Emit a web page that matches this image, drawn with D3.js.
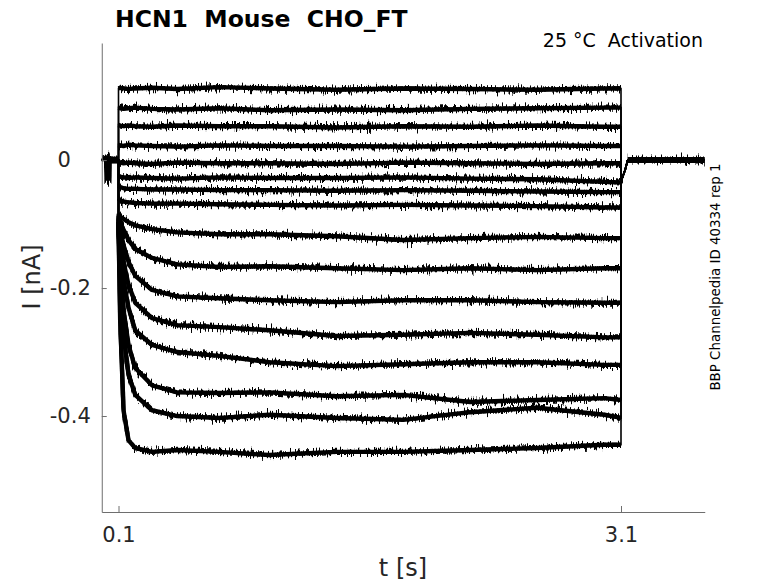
<!DOCTYPE html>
<html lang="en">
<head>
<meta charset="utf-8">
<title>HCN1 Mouse CHO_FT - activation</title>
<script src="https://cdn.jsdelivr.net/npm/d3@7/dist/d3.min.js"></script>
<style>
  body { margin: 0; background: #fff; }
  svg { font-family: "DejaVu Sans", sans-serif; }
</style>
</head>
<body>
<script>

var stepT = [0.1, 0.11, 0.13, 0.16, 0.2, 0.3, 0.45, 0.7, 1.0, 1.4, 1.8, 2.2, 2.6, 3.0, 3.1];

// current (nA) of each sweep at those times, top sweep first
var sweep01 = [0.112, 0.113, 0.112, 0.111, 0.112, 0.113, 0.111, 0.114, 0.112, 0.110, 0.112, 0.111, 0.110, 0.112, 0.112];
var sweep02 = [0.082, 0.081, 0.080, 0.081, 0.082, 0.080, 0.079, 0.081, 0.078, 0.079, 0.078, 0.080, 0.081, 0.082, 0.082];
var sweep03 = [0.055, 0.054, 0.053, 0.054, 0.053, 0.052, 0.054, 0.053, 0.053, 0.051, 0.053, 0.052, 0.054, 0.052, 0.052];
var sweep04 = [0.024, 0.023, 0.022, 0.024, 0.023, 0.022, 0.021, 0.023, 0.022, 0.022, 0.021, 0.022, 0.023, 0.022, 0.022];
var sweep05 = [-0.002, -0.004, -0.005, -0.004, -0.005, -0.006, -0.004, -0.005, -0.005, -0.006, -0.004, -0.005, -0.006, -0.005, -0.005];
var sweep06 = [-0.024, -0.026, -0.027, -0.028, -0.027, -0.028, -0.029, -0.027, -0.028, -0.028, -0.027, -0.029, -0.030, -0.034, -0.035];
var sweep07 = [-0.040, -0.042, -0.044, -0.045, -0.045, -0.046, -0.046, -0.047, -0.047, -0.048, -0.047, -0.048, -0.049, -0.050, -0.050];
var sweep08 = [-0.060, -0.063, -0.065, -0.066, -0.067, -0.068, -0.068, -0.069, -0.070, -0.071, -0.070, -0.071, -0.072, -0.074, -0.074];
var sweep09 = [-0.083, -0.088, -0.092, -0.097, -0.102, -0.108, -0.113, -0.116, -0.116, -0.119, -0.125, -0.122, -0.120, -0.122, -0.122];
var sweep10 = [-0.086, -0.097, -0.109, -0.125, -0.139, -0.153, -0.163, -0.167, -0.166, -0.169, -0.172, -0.169, -0.172, -0.169, -0.169];
var sweep11 = [-0.089, -0.109, -0.133, -0.159, -0.181, -0.203, -0.213, -0.216, -0.219, -0.222, -0.219, -0.219, -0.222, -0.223, -0.223];
var sweep12 = [-0.091, -0.125, -0.159, -0.195, -0.223, -0.247, -0.258, -0.261, -0.266, -0.275, -0.273, -0.270, -0.273, -0.277, -0.277];
var sweep13 = [-0.094, -0.141, -0.188, -0.231, -0.266, -0.289, -0.300, -0.306, -0.316, -0.322, -0.319, -0.316, -0.316, -0.320, -0.320];
var sweep14 = [-0.097, -0.164, -0.234, -0.289, -0.325, -0.352, -0.363, -0.364, -0.363, -0.369, -0.367, -0.378, -0.375, -0.372, -0.375];
var sweep15 = [-0.097, -0.188, -0.273, -0.336, -0.367, -0.391, -0.400, -0.403, -0.398, -0.403, -0.406, -0.394, -0.387, -0.398, -0.403];
var sweep16 = [-0.102, -0.250, -0.391, -0.438, -0.450, -0.456, -0.453, -0.456, -0.461, -0.456, -0.456, -0.453, -0.450, -0.445, -0.445];

var sweeps = [sweep01, sweep02, sweep03, sweep04, sweep05, sweep06, sweep07, sweep08,
              sweep09, sweep10, sweep11, sweep12, sweep13, sweep14, sweep15, sweep16];

// holding current before the step (with the little artefact) and the tail after it
var holdT = [0, 0.03, 0.034, 0.037, 0.040, 0.1];
var holdI = [0, 0.002, -0.004, -0.037, 0, 0];
var tailT = [3.1, 3.105, 3.125, 3.14, 3.6];
var tailI = [-0.039, -0.030, -0.015, 0, 0];

var xTicks = [0.1, 3.1];
var yTicks = [-0.4, -0.2, 0];
var yTickLabels = ["-0.4", "-0.2", "0"];

//Width and height
var w = 778;
var h = 583;

var x = d3.scaleLinear().domain([0, 3.6]).range([101.75, 704.75]);
var y = d3.scaleLinear().domain([-0.55, 0.183]).range([512, 43]);

var svg = d3.select("body")
			.append("svg")
			.attr("width", w)
			.attr("height", h);

// rough, recording-like edge for the traces
var defs = svg.append("defs");
var jitter = defs.append("filter")
				 .attr("id", "jitter")
				 .attr("filterUnits", "userSpaceOnUse")
				 .attr("x", 0).attr("y", 0).attr("width", w).attr("height", h)
				 .attr("color-interpolation-filters", "sRGB");
jitter.append("feTurbulence")
	  .attr("type", "fractalNoise")
	  .attr("baseFrequency", "0.8 0.07")
	  .attr("numOctaves", 2)
	  .attr("seed", 7)
	  .attr("result", "noise");
jitter.append("feColorMatrix")
	  .attr("in", "noise")
	  .attr("type", "matrix")
	  .attr("values", "1 0 0 0 0  0 0 0 0 0.5  0 0 0 0 0  0 0 0 0 1")
	  .attr("result", "map");
jitter.append("feDisplacementMap")
	  .attr("in", "SourceGraphic")
	  .attr("in2", "map")
	  .attr("scale", 15)
	  .attr("xChannelSelector", "G")
	  .attr("yChannelSelector", "R");

var line = d3.line()
			 .x(function(d) { return x(d[0]); })
			 .y(function(d) { return y(d[1]); });

function zipT(ts, vs) {
	return ts.map(function(t, i) { return [t, vs[i]]; });
}

var traces = svg.append("g").attr("fill", "none").attr("stroke", "#000");

// thin line for every whole sweep: hold, jump, step, jump, tail
traces.selectAll("path.full")
	  .data(sweeps)
	  .enter()
	  .append("path")
	  .attr("class", "full")
	  .attr("stroke-width", 1.6)
	  .attr("d", function(s) {
		  return line(zipT(holdT, holdI).concat(zipT(stepT, s), zipT(tailT, tailI)));
	  });

// solid core of the noise band
traces.selectAll("path.core")
	  .data(sweeps)
	  .enter()
	  .append("path")
	  .attr("class", "core")
	  .attr("stroke-width", 4.4)
	  .attr("stroke-linejoin", "round")
	  .attr("d", function(s) { return line(zipT(stepT, s)); });

// ragged edges of the band
var noisy = traces.append("g").attr("filter", "url(#jitter)");

noisy.selectAll("path.step")
	 .data(sweeps)
	 .enter()
	 .append("path")
	 .attr("class", "step")
	 .attr("stroke-width", 4.2)
	 .attr("stroke-linejoin", "round")
	 .attr("d", function(s) { return line(zipT(stepT, s)); });

traces.append("path")
	  .attr("stroke-width", 7)
	  .attr("d", line(zipT(holdT.slice(4), holdI.slice(4))));

noisy.append("path")
	 .attr("stroke-width", 7)
	 .attr("d", line(zipT(holdT, holdI)));

traces.append("path")
	  .attr("stroke-width", 6)
	  .attr("d", line(zipT(tailT.slice(3), tailI.slice(3))));

noisy.append("path")
	 .attr("stroke-width", 5)
	 .attr("d", line(zipT(tailT.slice(3), tailI.slice(3))));

// axes, MATLAB style with ticks pointing in
var xAxis = d3.axisBottom(x)
			  .tickValues(xTicks)
			  .tickFormat(d3.format(".1f"))
			  .tickSizeInner(-6)
			  .tickSizeOuter(0)
			  .tickPadding(15);

var yAxis = d3.axisLeft(y)
			  .tickValues(yTicks)
			  .tickFormat(function(d, i) { return yTickLabels[i]; })
			  .tickSizeInner(-5)
			  .tickSizeOuter(0)
			  .tickPadding(11);

var gx = svg.append("g").attr("transform", "translate(0,512)").call(xAxis);
var gy = svg.append("g").attr("transform", "translate(101.75,0)").call(yAxis);

[gx, gy].forEach(function(g) {
	g.select(".domain").attr("stroke", "#6e6e6e");
	g.selectAll(".tick line").attr("stroke", "#6e6e6e");
	g.selectAll(".tick text")
	 .attr("fill", "#262626")
	 .attr("font-size", "21px")
	 .attr("font-family", "DejaVu Sans, sans-serif");
});

// the zero label sits further left in the original
gy.selectAll(".tick text")
  .filter(function(d) { return d === 0; })
  .attr("dx", "-20");

svg.append("text")
   .attr("x", 403)
   .attr("y", 576)
   .attr("text-anchor", "middle")
   .attr("font-size", "24px")
   .attr("fill", "#262626")
   .text("t [s]");

svg.append("text")
   .attr("transform", "translate(40,277) rotate(-90)")
   .attr("text-anchor", "middle")
   .attr("font-size", "24px")
   .attr("fill", "#262626")
   .text("I [nA]");

svg.append("text")
   .attr("x", 115)
   .attr("y", 27)
   .attr("font-size", "23.5px")
   .attr("font-weight", "bold")
   .attr("fill", "#000")
   .style("white-space", "pre")
   .text("HCN1  Mouse  CHO_FT");

svg.append("text")
   .attr("x", 703)
   .attr("y", 47)
   .attr("text-anchor", "end")
   .attr("font-size", "19px")
   .attr("fill", "#000")
   .style("white-space", "pre")
   .text("25 °C  Activation");

svg.append("text")
   .attr("transform", "translate(720,277) rotate(-90)")
   .attr("text-anchor", "middle")
   .attr("font-size", "13.4px")
   .attr("fill", "#000")
   .text("BBP Channelpedia ID 40334 rep 1");

</script>
</body>
</html>
